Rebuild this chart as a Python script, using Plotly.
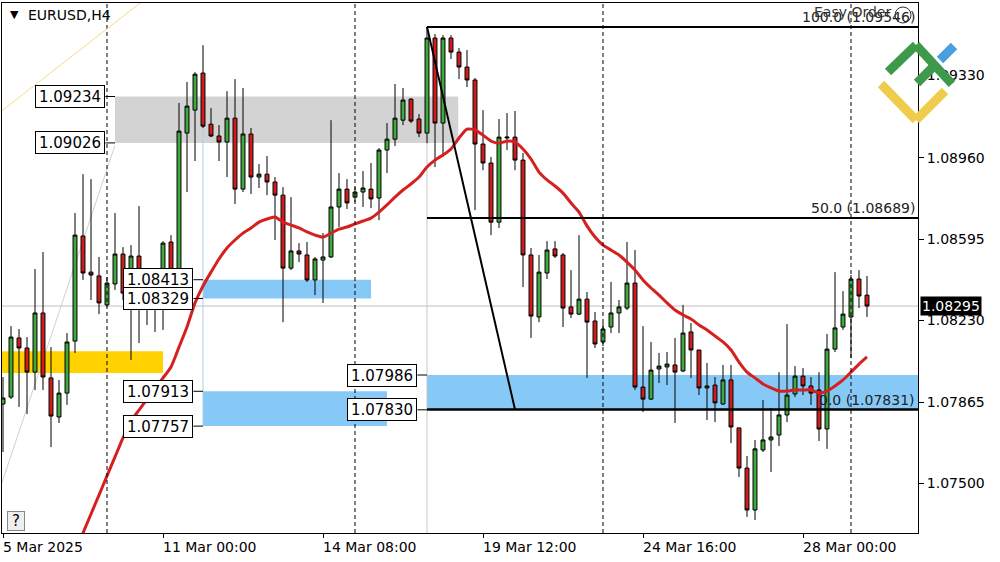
import plotly.graph_objects as go

# ---------------- data (EURUSD H4, bar index 0..108) ----------------
bars = list(range(109))
open_prices = [1.07856, 1.07887, 1.08152, 1.08107, 1.07999, 1.08264, 1.07973, 1.07798, 1.07905, 1.08138,
               1.08609, 1.08447, 1.08430, 1.08300, 1.08394, 1.08528, 1.08353, 1.08519, 1.08367, 1.08291,
               1.08309, 1.08582, 1.08389, 1.09070, 1.09173, 1.09339, 1.09110, 1.09057, 1.09030, 1.09137,
               1.08819, 1.09066, 1.08873, 1.08886, 1.08851, 1.08792, 1.08465, 1.08542, 1.08524, 1.08412,
               1.08501, 1.08515, 1.08739, 1.08819, 1.08783, 1.08806, 1.08819, 1.08779, 1.08994, 1.09043,
               1.09128, 1.09222, 1.09133, 1.09070, 1.09496, 1.09115, 1.09496, 1.09433, 1.09366, 1.09308,
               1.09021, 1.08936, 1.08671, 1.09048, 1.09052, 1.08949, 1.08524, 1.08246, 1.08443, 1.08551,
               1.08524, 1.08291, 1.08259, 1.08326, 1.08228, 1.08134, 1.08201, 1.08264, 1.08286, 1.08398,
               1.07932, 1.07878, 1.08013, 1.08022, 1.08031, 1.08004, 1.08179, 1.08098, 1.07928, 1.07941,
               1.07856, 1.07964, 1.07749, 1.07569, 1.07381, 1.07650, 1.07695, 1.07717, 1.07807, 1.07901,
               1.07981, 1.07937, 1.07919, 1.07744, 1.08102, 1.08201, 1.08246, 1.08416, 1.08344]
high_prices = [1.07977, 1.08205, 1.08192, 1.08156, 1.08461, 1.08537, 1.08111, 1.07964, 1.08174, 1.08712,
               1.08886, 1.08864, 1.08515, 1.08425, 1.08712, 1.08559, 1.08568, 1.08743, 1.08412, 1.08389,
               1.08586, 1.08613, 1.09205, 1.09299, 1.09343, 1.09464, 1.09182, 1.09106, 1.09258, 1.09312,
               1.09272, 1.09093, 1.08931, 1.08967, 1.08873, 1.08828, 1.08783, 1.08577, 1.08582, 1.08515,
               1.08622, 1.09128, 1.08891, 1.08864, 1.08828, 1.08900, 1.08936, 1.09003, 1.09115, 1.09290,
               1.09272, 1.09227, 1.09155, 1.09546, 1.09514, 1.09509, 1.09509, 1.09451, 1.09442, 1.09317,
               1.09173, 1.08963, 1.09133, 1.09160, 1.09169, 1.08981, 1.08555, 1.08524, 1.08586, 1.08586,
               1.08533, 1.08456, 1.08613, 1.08358, 1.08268, 1.08219, 1.08403, 1.08322, 1.08582, 1.08546,
               1.08205, 1.08134, 1.08085, 1.08089, 1.08152, 1.08300, 1.08219, 1.08098, 1.08040, 1.07977,
               1.08031, 1.08031, 1.07749, 1.07623, 1.07695, 1.07874, 1.07838, 1.07999, 1.08214, 1.08026,
               1.08017, 1.07977, 1.07999, 1.08170, 1.08447, 1.08362, 1.08434, 1.08456, 1.08430]
low_prices = [1.07641, 1.07878, 1.07843, 1.07811, 1.07919, 1.07919, 1.07663, 1.07771, 1.07852, 1.08085,
              1.08412, 1.08322, 1.08259, 1.08291, 1.08367, 1.08322, 1.08053, 1.08129, 1.08210, 1.08179,
              1.08188, 1.08322, 1.08322, 1.08806, 1.08945, 1.09093, 1.09052, 1.08945, 1.08873, 1.08752,
              1.08806, 1.08797, 1.08824, 1.08792, 1.08591, 1.08223, 1.08456, 1.08492, 1.08403, 1.08344,
              1.08309, 1.08510, 1.08649, 1.08730, 1.08761, 1.08739, 1.08734, 1.08680, 1.08891, 1.09012,
              1.09106, 1.09115, 1.09052, 1.09025, 1.08918, 1.08963, 1.09402, 1.09312, 1.09276, 1.08725,
              1.08904, 1.08613, 1.08645, 1.08994, 1.08904, 1.08380, 1.08152, 1.08223, 1.08416, 1.08510,
              1.08201, 1.08241, 1.08255, 1.07973, 1.08107, 1.08116, 1.08174, 1.08174, 1.08277, 1.07919,
              1.07820, 1.07874, 1.07950, 1.07941, 1.07771, 1.07999, 1.07973, 1.07896, 1.07784, 1.07775,
              1.07852, 1.07681, 1.07529, 1.07350, 1.07336, 1.07641, 1.07551, 1.07668, 1.07775, 1.07887,
              1.07896, 1.07852, 1.07690, 1.07655, 1.08089, 1.08188, 1.08062, 1.08286, 1.08246]
close_prices = [1.07883, 1.08156, 1.08107, 1.07999, 1.08264, 1.07977, 1.07802, 1.07905, 1.08134, 1.08613,
                1.08443, 1.08434, 1.08309, 1.08398, 1.08528, 1.08353, 1.08519, 1.08353, 1.08286, 1.08353,
                1.08577, 1.08389, 1.09079, 1.09191, 1.09334, 1.09101, 1.09057, 1.09030, 1.09137, 1.08819,
                1.09066, 1.08873, 1.08886, 1.08851, 1.08792, 1.08465, 1.08542, 1.08528, 1.08412, 1.08506,
                1.08515, 1.08739, 1.08819, 1.08757, 1.08806, 1.08824, 1.08775, 1.08994, 1.09043, 1.09137,
                1.09218, 1.09124, 1.09070, 1.09496, 1.09115, 1.09496, 1.09433, 1.09366, 1.09308, 1.09021,
                1.08936, 1.08671, 1.09052, 1.09052, 1.08949, 1.08524, 1.08250, 1.08447, 1.08546, 1.08519,
                1.08286, 1.08259, 1.08326, 1.08223, 1.08125, 1.08192, 1.08264, 1.08291, 1.08398, 1.07932,
                1.07878, 1.08008, 1.08026, 1.08035, 1.07999, 1.08174, 1.08098, 1.07928, 1.07937, 1.07861,
                1.07964, 1.07753, 1.07569, 1.07381, 1.07655, 1.07695, 1.07708, 1.07807, 1.07896, 1.07981,
                1.07937, 1.07905, 1.07744, 1.08102, 1.08197, 1.08259, 1.08416, 1.08340, 1.08295]

ma_bars = list(range(9, 109))
ma_values = [1.07193, 1.07278, 1.07363, 1.07448, 1.07534, 1.07619, 1.07704, 1.07780, 1.07829, 1.07878,
             1.07928, 1.07973, 1.08022, 1.08111, 1.08201, 1.08309, 1.08385, 1.08447, 1.08506, 1.08555,
             1.08591, 1.08622, 1.08645, 1.08671, 1.08685, 1.08694, 1.08671, 1.08658, 1.08645, 1.08627,
             1.08613, 1.08604, 1.08622, 1.08640, 1.08649, 1.08663, 1.08676, 1.08689, 1.08716, 1.08748,
             1.08783, 1.08815, 1.08842, 1.08873, 1.08918, 1.08949, 1.08972, 1.08999, 1.09048, 1.09088,
             1.09084, 1.09061, 1.09034, 1.09025, 1.09034, 1.09030, 1.08999, 1.08954, 1.08895, 1.08860,
             1.08833, 1.08801, 1.08757, 1.08716, 1.08654, 1.08604, 1.08568, 1.08546, 1.08524, 1.08492,
             1.08456, 1.08412, 1.08376, 1.08344, 1.08309, 1.08277, 1.08255, 1.08237, 1.08210, 1.08188,
             1.08161, 1.08134, 1.08098, 1.08044, 1.07999, 1.07973, 1.07946, 1.07928, 1.07914, 1.07914,
             1.07919, 1.07919, 1.07919, 1.07905, 1.07914, 1.07937, 1.07964, 1.07999, 1.08035, 1.08067]

x_tick_bars = [0, 20, 40, 60, 80, 100]
x_tick_labels = ["5 Mar 2025", "11 Mar 00:00", "14 Mar 08:00", "19 Mar 12:00", "24 Mar 16:00", "28 Mar 00:00"]
week_separators = [13, 44, 75, 106]
y_tick_values = [1.07500, 1.07865, 1.08230, 1.08595, 1.08960, 1.09330]

# zones: start bar, end bar, upper price, lower price, colour, labelled
zone_start = [14, 25, 25, 53, -1]
zone_end = [56.9, 46, 48, 115, 20]
zone_upper = [1.09234, 1.08413, 1.07913, 1.07986, 1.08093]
zone_lower = [1.09026, 1.08329, 1.07757, 1.07830, 1.07995]
zone_color = ["#d3d3d3", "#87c9f6", "#87c9f6", "#87c9f6", "#ffd200"]
zone_labelled = [True, True, True, True, False]

fib_start_bar = 53
fib_end_bar = 64
fib_levels = [100.0, 50.0, 0.0]
fib_prices = [1.09546, 1.08689, 1.07831]

current_price = 1.08295
x_range = [-0.125, 114.375]
y_range = [1.07278, 1.09653]

# ---------------- figure ----------------
fig = go.Figure()

fig.add_trace(go.Candlestick(
    x=bars, open=open_prices, high=high_prices, low=low_prices, close=close_prices,
    increasing=dict(line=dict(color="black", width=1), fillcolor="#3fa83f"),
    decreasing=dict(line=dict(color="black", width=1), fillcolor="#d21c1c"),
    whiskerwidth=0, showlegend=False, hoverinfo="skip"))

fig.add_trace(go.Scatter(
    x=ma_bars, y=ma_values, mode="lines",
    line=dict(color="#d61f1f", width=3, shape="spline", smoothing=0.6),
    showlegend=False, hoverinfo="skip"))

shapes = []
annotations = []

# zones
for s, e, u, l, c in zip(zone_start, zone_end, zone_upper, zone_lower, zone_color):
    shapes.append(dict(type="rect", xref="x", yref="y", x0=s, x1=e, y0=l, y1=u,
                       fillcolor=c, line=dict(width=0), layer="below"))

# zone labels
for s, u, l, lab in zip(zone_start, zone_upper, zone_lower, zone_labelled):
    if not lab:
        continue
    for p in (u, l):
        shapes.append(dict(type="line", xref="x", yref="y", x0=s - 1.2, x1=s, y0=p, y1=p,
                           line=dict(color="black", width=1)))
        annotations.append(dict(xref="x", yref="y", x=s - 1.2, y=p, xanchor="right", yanchor="middle",
                                text=f"{p:.5f}", showarrow=False, width=66, height=19,
                                bgcolor="white", bordercolor="black", borderwidth=1, borderpad=1,
                                font=dict(family="DejaVu Sans", size=15, color="black")))

# vertical helper lines
shapes.append(dict(type="line", xref="x", yref="y", x0=25, x1=25, y0=zone_lower[2], y1=close_prices[25],
                   line=dict(color="#a9cfe6", width=1), layer="below"))
shapes.append(dict(type="line", xref="x", yref="y", x0=fib_start_bar, x1=fib_start_bar,
                   y0=y_range[0], y1=low_prices[53], line=dict(color="#c8c8c8", width=1), layer="below"))

# week separators
for b in week_separators:
    shapes.append(dict(type="line", xref="x", yref="paper", x0=b, x1=b, y0=0, y1=1,
                       line=dict(color="black", width=1, dash="4px,3px")))

# current price line
shapes.append(dict(type="line", xref="paper", yref="y", x0=0, x1=1, y0=current_price, y1=current_price,
                   line=dict(color="#c0c0c0", width=1), layer="below"))

# trend lines
shapes.append(dict(type="line", xref="x", yref="y", x0=-1, x1=20, y0=1.09146, y1=1.09733,
                   line=dict(color="#f2dc8c", width=1)))
shapes.append(dict(type="line", xref="x", yref="y", x0=-0.4, x1=14, y0=1.07475, y1=1.09016,
                   line=dict(color="#cfcfcf", width=1), layer="below"))

# fibonacci
for lvl, p in zip(fib_levels, fib_prices):
    shapes.append(dict(type="line", xref="x", yref="y", x0=fib_start_bar, x1=x_range[1], y0=p, y1=p,
                       line=dict(color="black", width=2.5 if lvl == 0 else 2)))
    annotations.append(dict(xref="paper", yref="y", x=1, y=p, xanchor="right", yanchor="bottom",
                            xshift=-1, yshift=0, text=f"{lvl:.1f} ({p:.5f})", showarrow=False,
                            font=dict(family="DejaVu Sans", size=14, color="#222222")))
shapes.append(dict(type="line", xref="x", yref="y", x0=fib_start_bar, x1=fib_end_bar,
                   y0=fib_prices[0], y1=fib_prices[2], line=dict(color="black", width=2)))

# x tick labels (left aligned like MT4)
for b, t in zip(x_tick_bars, x_tick_labels):
    annotations.append(dict(xref="x", yref="paper", x=b, y=0, xanchor="left", yanchor="top",
                            xshift=-2, yshift=-4, text=t, showarrow=False,
                            font=dict(family="DejaVu Sans", size=14, color="black")))

# current price tag
annotations.append(dict(xref="paper", yref="y", x=1, y=current_price, xanchor="left", yanchor="middle",
                        xshift=2, text=f"{current_price:.5f}", showarrow=False, bgcolor="black",
                        borderpad=1, font=dict(family="DejaVu Sans", size=14, color="white")))

# header
annotations.append(dict(xref="paper", yref="paper", x=0.007, y=0.978, xanchor="left", yanchor="middle",
                        text="▼", showarrow=False, font=dict(family="DejaVu Sans", size=11, color="black")))
annotations.append(dict(xref="paper", yref="paper", x=0.026, y=0.978, xanchor="left", yanchor="middle",
                        text="EURUSD,H4", showarrow=False, font=dict(family="DejaVu Sans", size=14, color="black")))
annotations.append(dict(xref="paper", yref="paper", x=0.005, y=0.004, xanchor="left", yanchor="bottom",
                        text="?", showarrow=False, bgcolor="#eeeeee", bordercolor="#888888", borderwidth=1,
                        width=14, height=16, borderpad=1,
                        font=dict(family="DejaVu Sans", size=15, color="black")))
annotations.append(dict(xref="paper", yref="paper", x=0.884, y=0.983, xanchor="left", yanchor="middle",
                        text="Easy Order", showarrow=False, font=dict(family="DejaVu Sans", size=14, color="#333333")))


def px(xp, yp):
    return (xp - 2) / 916, (533 - yp) / 530


def logo_line(p0, p1, color):
    x0, y0 = px(*p0)
    x1, y1 = px(*p1)
    shapes.append(dict(type="line", xref="paper", yref="paper", x0=x0, y0=y0, x1=x1, y1=y1,
                       line=dict(color=color, width=9), layer="above"))


cx0, cy0 = px(895, 7)
cx1, cy1 = px(911, 23)
shapes.append(dict(type="circle", xref="paper", yref="paper", x0=cx0, y0=cy1, x1=cx1, y1=cy0,
                   line=dict(color="#333333", width=1)))
logo_line((881, 84), (916, 120), "#f0cc4c")
logo_line((916, 120), (945, 91), "#f0cc4c")
logo_line((888, 72), (916, 45), "#3e9a4a")
logo_line((916, 45), (952, 84), "#3e9a4a")
logo_line((917, 83), (937, 63), "#3e9a4a")
logo_line((940, 60), (954, 46), "#4a9fe0")

fig.update_layout(
    width=1000, height=562,
    margin=dict(l=2, r=82, t=3, b=29, autoexpand=False),
    paper_bgcolor="white", plot_bgcolor="white",
    shapes=shapes, annotations=annotations,
    showlegend=False, hovermode=False,
    xaxis=dict(range=x_range, rangeslider=dict(visible=False), showgrid=False, zeroline=False,
               showline=True, linecolor="black", linewidth=1, mirror=True,
               tickvals=x_tick_bars, ticktext=[""] * len(x_tick_bars), ticks="outside", ticklen=4,
               tickcolor="black"),
    yaxis=dict(range=y_range, side="right", showgrid=False, zeroline=False,
               showline=True, linecolor="black", linewidth=1, mirror=True,
               tickvals=y_tick_values, ticktext=[f"{v:.5f}" for v in y_tick_values],
               ticks="outside", ticklen=5, tickcolor="black",
               tickfont=dict(family="DejaVu Sans", size=14, color="black")),
)

fig.write_html("out.html", config={"displayModeBar": False},
               post_script="document.body.style.margin='0px';document.body.style.overflow='hidden';")
